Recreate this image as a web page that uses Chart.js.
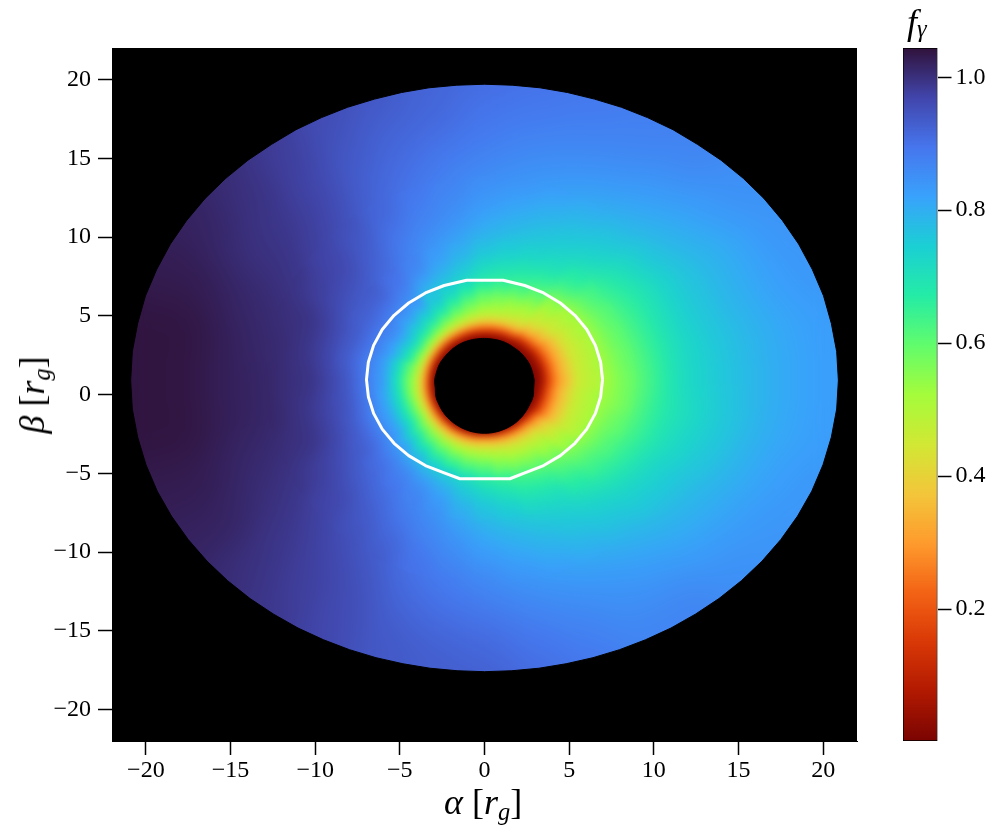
<!DOCTYPE html>
<html>
<head>
<meta charset="utf-8">
<script src="https://cdn.jsdelivr.net/npm/chart.js@4/dist/chart.umd.min.js"></script>
<style>
body { margin: 0; background: #fff; width: 995px; height: 833px; position: relative; overflow: hidden; }
canvas { position: absolute; top: 0; }
.lbl { position: absolute; font-family: "Liberation Serif", serif; color: #000; white-space: nowrap; line-height: 1; }
.lbl i { font-style: italic; }
.lbl sub { font-size: 0.68em; line-height: 0; vertical-align: -0.25em; font-style: italic; }
</style>
</head>
<body>
<canvas id="map" width="870" height="833" style="left:0"></canvas>
<canvas id="bar" width="125" height="833" style="left:870px"></canvas>
<div class="lbl" style="left:444px;top:784px;font-size:36px"><i>α</i> [<i>r<sub>g</sub></i>]</div>
<div class="lbl" style="left:32px;top:395px;font-size:36px;transform:translate(-50%,-50%) rotate(-90deg)"><i>β</i> [<i>r<sub>g</sub></i>]</div>
<div class="lbl" style="left:907px;top:4px;font-size:36px"><i>f<sub style="vertical-align:-0.12em">γ</sub></i></div>
<script>
// Tick labels
const alphaTicks = [-20, -15, -10, -5, 0, 5, 10, 15, 20];
const betaTicks = [-20, -15, -10, -5, 0, 5, 10, 15, 20];
const barTicks = [0.2, 0.4, 0.6, 0.8, 1.0];

// Colour range of the bar
const fMin = 0.0015;
const fMax = 1.044;

// Mesh of the disc, polar around (0, meshBeta). One row per spoke, one column per ring band
const meshBeta = 0.9;
const spokeAngles = [0, 10, 20, 30, 40, 50, 60, 70, 80, 90, 100, 110, 120, 130, 140, 150, 160, 170,
    180, 190, 200, 210, 220, 230, 240, 250, 260, 270, 280, 290, 300, 310, 320, 330, 340, 350];
const ringEdges = [0, 2.8, 3, 3.2, 3.4, 3.6, 3.8, 4.1, 4.4, 4.8, 5.2, 5.6, 6, 6.5, 7, 7.5, 8, 9, 10, 11, 12, 13, 14, 15.5, 17, 18.5, 20, 32];
const holeEdge = [2.94, 2.88, 2.85, 2.8, 2.76, 2.71, 2.7, 2.68, 2.66, 2.66, 2.67, 2.69, 2.72, 2.74, 2.76, 2.8, 2.85, 2.88,
    2.94, 2.95, 3.05, 3.1, 3.17, 3.23, 3.28, 3.32, 3.35, 3.36, 3.35, 3.32, 3.28, 3.22, 3.15, 3.08, 3.05, 2.95];

// Disc outline, radius every 5 degrees
const discEdge = [20.9, 20.88, 20.8, 20.73, 20.6, 20.47, 20.31, 20.14, 19.95, 19.76, 19.56, 19.42, 19.26, 19.13, 19.0, 18.92, 18.86, 18.81,
    18.8, 18.81, 18.86, 18.92, 19.0, 19.13, 19.26, 19.42, 19.56, 19.76, 19.95, 20.14, 20.31, 20.47, 20.6, 20.73, 20.8, 20.88,
    20.9, 20.88, 20.8, 20.7, 20.57, 20.4, 20.21, 20.01, 19.8, 19.59, 19.38, 19.2, 19.02, 18.87, 18.74, 18.63, 18.56, 18.51,
    18.5, 18.51, 18.56, 18.63, 18.74, 18.87, 19.02, 19.2, 19.38, 19.59, 19.8, 20.01, 20.21, 20.4, 20.57, 20.7, 20.8, 20.88];

// f_gamma in hundredths
const fGrid = [
    [1,1,2,5,10,16,22,29,34,39,45,47,49,50,53,55,58,62,67,71,73,75,77,79,81,82,83],
    [1,1,2,5,10,16,23,29,35,40,45,47,49,51,54,56,59,63,67,71,73,75,77,79,81,82,83],
    [1,2,3,7,12,18,24,30,35,41,45,47,49,51,55,57,60,64,68,71,74,76,78,80,82,83,84],
    [1,2,4,9,14,20,26,31,36,42,45,48,50,52,56,58,61,65,68,71,74,76,78,80,82,84,84],
    [1,3,6,12,18,24,30,35,40,45,47,49,51,53,58,60,63,67,70,73,76,78,80,82,84,85,85],
    [1,4,8,14,21,28,34,39,44,47,49,52,54,57,62,64,67,71,74,76,78,80,82,84,86,87,87],
    [1,6,12,20,28,34,40,44,48,51,54,57,60,63,66,68,71,74,76,78,80,82,84,86,87,88,88],
    [1,7,13,21,29,36,42,46,50,53,56,60,63,66,68,70,73,76,78,80,82,84,85,87,88,89,89],
    [1,8,14,22,30,37,43,48,52,55,58,62,65,68,70,72,75,78,80,82,84,85,86,88,89,90,90],
    [1,8,15,23,31,38,44,49,53,57,60,64,67,70,72,74,77,80,82,84,85,86,88,89,90,91,91],
    [1,8,15,24,33,40,46,51,56,60,64,68,71,74,76,78,80,83,85,86,87,88,89,91,92,92,92],
    [1,8,15,25,35,42,48,54,59,64,68,72,74,77,79,81,83,85,87,88,89,90,91,92,93,94,95],
    [1,8,15,26,36,43,50,56,62,68,72,76,76,79,82,85,87,88,89,91,92,92,93,94,95,96,96],
    [1,6,14,25,36,44,52,59,65,71,75,79,83,85,87,89,90,92,93,94,95,96,97,97,98,98,99],
    [1,5,13,25,36,45,53,61,67,73,77,81,84,87,89,91,93,94,96,97,97,98,99,99,100,100,101],
    [1,4,12,24,36,45,54,62,69,75,79,83,86,88,90,92,93,95,97,98,99,100,100,100,101,102,102],
    [1,2,10,22,34,43,52,60,67,73,78,82,85,88,90,92,94,97,99,100,100,101,101,102,103,103,103],
    [1,1,8,20,32,41,49,56,62,69,75,80,84,87,89,91,94,97,99,100,101,101,102,103,104,104,104],
    [1,1,6,18,30,38,47,54,60,68,74,80,84,87,90,92,95,98,100,100,101,102,102,103,104,104,104],
    [1,1,5,16,28,37,46,53,60,68,74,79,83,87,90,92,95,97,99,100,101,102,102,103,104,104,104],
    [1,1,3,14,26,36,45,53,61,68,74,79,83,86,89,91,94,97,99,100,100,101,101,102,103,103,103],
    [1,1,2,12,24,34,44,53,61,68,74,79,83,86,89,91,93,95,97,98,99,100,100,101,102,102,102],
    [1,1,1,9,21,31,41,50,58,65,71,76,81,84,87,89,91,93,95,97,97,98,99,99,100,100,101],
    [1,1,1,6,18,29,39,48,56,62,68,73,78,81,86,87,89,91,93,94,95,96,97,98,98,99,99],
    [1,1,1,3,16,27,37,46,54,60,65,70,75,79,83,85,87,88,90,92,93,94,95,96,96,97,97],
    [1,1,1,1,15,27,36,45,52,58,63,67,74,77,80,82,84,86,87,89,90,90,92,93,94,94,94],
    [1,1,1,1,16,27,36,44,51,56,61,65,71,74,76,78,80,83,85,86,88,89,90,92,93,93,93],
    [1,1,1,1,18,28,37,44,50,55,60,63,68,70,73,75,77,80,82,84,86,87,89,91,92,93,93],
    [1,1,1,2,17,27,36,43,49,53,57,60,65,68,70,72,75,78,80,82,84,85,87,89,90,91,91],
    [1,1,1,5,17,26,35,42,47,51,55,58,62,65,67,69,72,76,78,80,82,84,85,87,88,89,89],
    [1,1,1,7,17,26,34,41,46,50,54,57,60,63,66,68,71,74,76,78,80,82,84,85,86,87,87],
    [1,1,2,8,17,26,33,40,45,49,52,54,57,60,62,64,67,71,74,76,78,80,82,84,86,87,87],
    [1,1,2,8,15,23,30,36,41,45,48,51,53,56,59,61,64,68,72,74,76,78,80,82,84,85,85],
    [1,1,2,6,11,17,24,30,36,41,46,48,50,53,57,59,62,66,70,73,75,77,79,81,83,84,84],
    [1,1,2,6,11,17,24,30,36,41,46,48,50,52,56,57,60,64,68,71,73,75,77,80,82,83,84],
    [1,1,2,6,11,17,24,30,36,41,46,48,50,52,54,55,58,63,67,70,72,74,76,79,81,82,83]
];

// White contour
const contourAlpha = [6.97, 6.86, 6.55, 6.04, 5.34, 4.48, 3.49, 2.38, 1.1, -1.05, -2.38, -3.49, -4.48, -5.34, -6.04, -6.55, -6.86, -6.97,
    -6.86, -6.55, -6.04, -5.34, -4.48, -3.49, -2.38, -1.45, 1.5, 2.38, 3.49, 4.48, 5.34, 6.04, 6.55, 6.86, 6.97];
const contourBeta = [0.95, 2.05, 3.12, 4.13, 5.03, 5.81, 6.45, 6.92, 7.25, 7.25, 6.92, 6.45, 5.81, 5.03, 4.13, 3.12, 2.05, 0.95,
    -0.14, -1.2, -2.2, -3.1, -3.88, -4.51, -4.97, -5.35, -5.35, -4.97, -4.51, -3.88, -3.1, -2.2, -1.2, -0.14, 0.95];

// turbo colormap stops
const turboStops = ['#30123b', '#4145ab', '#4675ed', '#39a2fc', '#1bcfd4', '#24eca6', '#61fc6c', '#a4fc3b',
    '#d1e834', '#f3c63a', '#fe9b2d', '#f36315', '#d93806', '#b11901', '#7a0402'];

const tickFont = { family: '"Liberation Serif", serif', size: 24 };
const minusLabel = v => (v < 0 ? '\u2212' + Math.abs(v) : String(v));

function hexRgb(hex) {
    return [1, 3, 5].map(i => parseInt(hex.slice(i, i + 2), 16));
}

function turboColor(v) {
    const t = Math.min(1, Math.max(0, 1 - (v - fMin) / (fMax - fMin))) * (turboStops.length - 1);
    const i = Math.min(turboStops.length - 2, Math.floor(t));
    const a = hexRgb(turboStops[i]), b = hexRgb(turboStops[i + 1]);
    const c = a.map((p, k) => Math.round(p + (b[k] - p) * (t - i)));
    return `rgb(${c[0]},${c[1]},${c[2]})`;
}

function meshPoint(deg, r) {
    const th = deg * Math.PI / 180;
    return { x: r * Math.cos(th), y: meshBeta + r * Math.sin(th) };
}

// One filled dataset per mesh cell. Cells run under the masks so the smoothing has no black to pull in
function cellDatasets() {
    const out = [];
    spokeAngles.forEach((deg, j) => {
        fGrid[j].forEach((val, i) => {
            const lo = ringEdges[i], hi = ringEdges[i + 1];
            const color = turboColor(val / 100);
            out.push({
                data: [meshPoint(deg - 5, lo), meshPoint(deg + 5, lo), meshPoint(deg + 5, hi), meshPoint(deg - 5, hi), meshPoint(deg - 5, lo)],
                showLine: true,
                fill: 'shape',
                backgroundColor: color,
                borderColor: color,
                borderWidth: 1,
                pointRadius: 0,
                tension: 0
            });
        });
    });
    return out;
}

function maskDataset(points, tension) {
    return {
        data: points,
        showLine: true,
        fill: 'shape',
        backgroundColor: '#000',
        borderColor: '#000',
        borderWidth: 1,
        pointRadius: 0,
        tension: tension
    };
}

const holePoints = spokeAngles.map((deg, j) => meshPoint(deg, holeEdge[j]));
holePoints.push(holePoints[0]);

// Black around the disc: panel outline, then the disc edge walked the other way
const discPoints = discEdge.map((r, i) => meshPoint(i * 5, r)).reverse();
const outsidePoints = [{ x: 22, y: meshBeta }, { x: 22, y: 22 }, { x: -22, y: 22 }, { x: -22, y: -22 }, { x: 22, y: -22 }, { x: 22, y: meshBeta },
    meshPoint(0, discEdge[0])].concat(discPoints, [meshPoint(0, discEdge[0])]);

const contourSet = {
    data: contourAlpha.map((a, i) => ({ x: a, y: contourBeta[i] })),
    showLine: true,
    fill: false,
    borderColor: '#fff',
    borderWidth: 3,
    borderJoinStyle: 'round',
    pointRadius: 0,
    tension: 0
};

// Lower index draws on top
const mapDatasets = [contourSet, maskDataset(outsidePoints, 0), maskDataset(holePoints, 0.4)].concat(cellDatasets());
const lastCellDrawn = 3;

const blackPanel = {
    id: 'blackPanel',
    beforeDraw(chart) {
        const a = chart.chartArea;
        chart.ctx.fillStyle = '#000';
        chart.ctx.fillRect(a.left, a.top, a.width, a.height);
    }
};

// Soften the cell edges once they are all drawn, before masks and contour go on top.
// Wider blur further out where the cells are bigger
const smoothCells = {
    id: 'smoothCells',
    afterDatasetDraw(chart, args) {
        if (args.index !== lastCellDrawn) return;
        const ctx = chart.ctx, a = chart.chartArea;
        const sx = chart.scales.x, sy = chart.scales.y;
        const copy = document.createElement('canvas');
        copy.width = chart.canvas.width;
        copy.height = chart.canvas.height;
        copy.getContext('2d').drawImage(chart.canvas, 0, 0);

        const trace = pts => pts.forEach((p, i) => {
            const px = sx.getPixelForValue(p.x), py = sy.getPixelForValue(p.y);
            if (i === 0) ctx.moveTo(px, py); else ctx.lineTo(px, py);
        });
        const ringPoints = r => spokeAngles.map(deg => meshPoint(deg, r));

        [[7, 0], [11, 9], [18, 13]].forEach(([blur, inner]) => {
            ctx.save();
            ctx.beginPath();
            ctx.rect(a.left, a.top, a.width, a.height);
            if (inner) {
                trace(ringPoints(inner));
                ctx.closePath();
                ctx.clip('evenodd');
            } else {
                ctx.clip();
            }
            ctx.filter = `blur(${blur}px)`;
            ctx.drawImage(copy, 0, 0);
            ctx.restore();
        });

        ctx.save();
        ctx.beginPath();
        trace(contourSet.data);
        ctx.closePath();
        ctx.clip();
        ctx.filter = 'blur(3.5px)';
        ctx.drawImage(copy, 0, 0);
        ctx.restore();
    }
};

function axisBase(ticks, pad) {
    return {
        type: 'linear',
        min: -22,
        max: 22,
        grid: { drawOnChartArea: false, drawTicks: true, tickLength: 14, tickWidth: 1.5, tickColor: '#000' },
        border: { display: true, color: '#000', width: 1 },
        afterBuildTicks: s => { s.ticks = ticks.map(v => ({ value: v })); },
        ticks: { font: tickFont, color: '#000', padding: pad, maxRotation: 0, autoSkip: false, callback: minusLabel }
    };
}

new Chart(document.getElementById('map').getContext('2d'), {
    type: 'scatter',
    data: { datasets: mapDatasets },
    plugins: [blackPanel, smoothCells],
    options: {
        responsive: false,
        animation: false,
        events: [],
        layout: { padding: { top: 48, right: 13, left: 0, bottom: 0 } },
        plugins: { legend: { display: false }, tooltip: { enabled: false } },
        scales: {
            x: Object.assign(axisBase(alphaTicks, 1), { afterFit: s => { s.height = 92; } }),
            y: Object.assign(axisBase(betaTicks, 7), { afterFit: s => { s.width = 112; } })
        }
    }
});

// Colour bar: one floating bar painted with the colormap
const barCtx = document.getElementById('bar').getContext('2d');
const barFill = barCtx.createLinearGradient(0, 48, 0, 741);
turboStops.forEach((c, i) => barFill.addColorStop(i / (turboStops.length - 1), c));

new Chart(barCtx, {
    type: 'bar',
    data: {
        labels: ['f'],
        datasets: [{
            data: [[fMin, fMax]],
            backgroundColor: barFill,
            borderColor: '#000',
            borderWidth: 1,
            borderSkipped: false,
            barPercentage: 1,
            categoryPercentage: 1
        }]
    },
    options: {
        responsive: false,
        animation: false,
        events: [],
        layout: { padding: { top: 48, left: 33, right: 0, bottom: 0 } },
        plugins: { legend: { display: false }, tooltip: { enabled: false } },
        scales: {
            x: { display: false, afterFit: s => { s.height = 92; } },
            y: {
                position: 'right',
                min: fMin,
                max: fMax,
                grid: { drawOnChartArea: false, drawTicks: true, tickLength: 14, tickWidth: 1.5, tickColor: '#000' },
                border: { display: false },
                afterBuildTicks: s => { s.ticks = barTicks.map(v => ({ value: v })); },
                afterFit: s => { s.width = 57.5; },
                ticks: { font: tickFont, color: '#000', padding: 4, callback: v => v.toFixed(1) }
            }
        }
    }
});
</script>
</body>
</html>
